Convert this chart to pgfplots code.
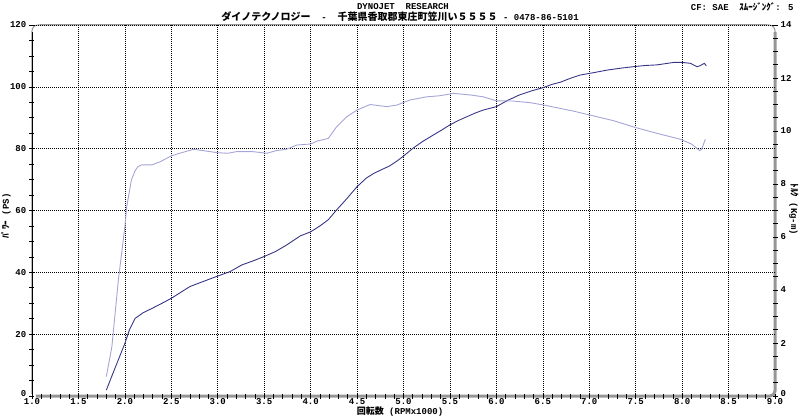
\documentclass[border=0pt]{standalone}
\usepackage{fontspec}
\setmainfont{Liberation Mono}
\newfontfamily\jp{Noto Sans CJK JP}
\usepackage{pgfplots}
\pgfplotsset{compat=1.18}
\definecolor{pwr}{RGB}{55,55,135}
\definecolor{trq}{RGB}{165,165,215}
\definecolor{frm}{RGB}{150,150,150}

\pgfplotsset{
  dyno/.style={
    width=743pt, height=371pt, scale only axis,
    at={(0,0)}, anchor=south west,
    xmin=1, xmax=9,
    axis line style={draw=none},
    tick align=center,
    major tick length=5pt, minor tick length=5pt,
    every tick/.style={black, line width=0.6pt},
    ticklabel style={font=\bfseries\fontsize{9}{9}\selectfont, inner sep=1pt},
    /pgf/number format/assume math mode=true,
    clip=false,
  },
}

\begin{document}
\begin{tikzpicture}
% frame
\draw[frm, line width=1pt, rounded corners=6pt] (0,2pt) -- (0,371pt) -- (743pt,371pt) -- (743pt,330pt);
\draw[black, line width=0.8pt] (0,2pt) -- (0,364pt);
\draw[frm, line width=3pt, rounded corners=5pt] (4pt,0) -- (743pt,0) -- (743pt,364pt);

% power (PS)
\begin{axis}[dyno,
    ymin=0, ymax=120,
    tick pos=left,
    xtick={1.5,2,...,8.5}, extra x ticks={1,9},
    minor xtick={1,1.1,...,9},
    ytick={20,40,...,120}, extra y ticks={0},
    minor ytick={0,5,...,120},
    extra x tick style={grid=none},
    extra y tick style={grid=none, yticklabel style={yshift=2.5pt}},
    xticklabel style={yshift=1pt, /pgf/number format/fixed, /pgf/number format/fixed zerofill, /pgf/number format/precision=1},
    yticklabel style={xshift=-2pt},
    grid=major,
    major grid style={black, line width=0.6pt, dash pattern=on 0.6pt off 1.4pt},
  ]
  \addplot[pwr, line width=0.9pt] coordinates {
    (1.80,1.9) (1.90,9.5) (2.00,17) (2.05,21.5) (2.11,25.1) (2.20,27) (2.29,28.3)
    (2.40,30) (2.50,31.6) (2.60,33.5) (2.70,35.4) (2.84,37) (3.00,38.8) (3.13,40.2)
    (3.26,42.4) (3.38,43.7) (3.49,45) (3.62,46.7) (3.74,48.8) (3.89,51.8) (4.00,53.1)
    (4.10,55) (4.19,57) (4.28,60.2) (4.38,63.5) (4.50,67.7) (4.60,70.5) (4.68,72)
    (4.77,73.3) (4.85,74.4) (4.93,76) (5.00,77.6) (5.10,80.1) (5.20,82.2) (5.32,84.4)
    (5.41,86) (5.50,87.7) (5.59,89.1) (5.68,90.3) (5.77,91.5) (5.86,92.5) (6.00,93.6)
    (6.12,95.6) (6.25,97.4) (6.38,98.7) (6.51,99.8) (6.60,100.8) (6.69,101.5)
    (6.80,102.8) (6.90,103.8) (7.05,104.6) (7.19,105.4) (7.33,106) (7.47,106.5)
    (7.60,106.9) (7.73,107.1) (7.82,107.5) (7.91,107.9) (8.00,107.9) (8.09,107.6)
    (8.16,106.5) (8.19,106.8) (8.24,107.6) (8.26,106.8)
  };
\end{axis}

% torque (kg-m)
\begin{axis}[dyno,
    ymin=0, ymax=14,
    hide x axis,
    ytick pos=right, yticklabel pos=right,
    ytick={2,4,...,14}, extra y ticks={0},
    extra y tick style={yticklabel style={yshift=2.5pt}},
    minor ytick={0,0.5,...,14},
    yticklabel style={xshift=2pt},
  ]
  \addplot[trq, line width=0.9pt] coordinates {
    (1.80,0.73) (1.86,1.86) (1.93,4.38) (2.00,6.39) (2.02,7.14) (2.07,8.15) (2.11,8.5)
    (2.14,8.65) (2.18,8.72) (2.29,8.72) (2.38,8.84) (2.50,9.06) (2.59,9.16) (2.74,9.31)
    (2.84,9.26) (3.00,9.18) (3.11,9.16) (3.20,9.22) (3.38,9.22) (3.53,9.16) (3.63,9.26)
    (3.74,9.31) (3.85,9.47) (4.00,9.51) (4.07,9.62) (4.19,9.72) (4.28,10.16) (4.39,10.54)
    (4.50,10.79) (4.64,11.0) (4.75,10.95) (4.82,10.92) (4.93,10.98) (5.07,11.17)
    (5.25,11.29) (5.39,11.33) (5.54,11.42) (5.72,11.36) (5.86,11.29) (6.00,11.14)
    (6.18,11.13) (6.36,11.07) (6.51,10.98) (6.65,10.88) (6.83,10.75) (7.01,10.6)
    (7.26,10.39) (7.49,10.14) (7.73,9.91) (7.98,9.69) (8.10,9.51) (8.19,9.26)
    (8.21,9.31) (8.25,9.69)
  };
\end{axis}

% top edge over the grid line at 120
\draw[frm, line width=1pt] (8pt,371pt) -- (735pt,371pt);

% texts
\node[font=\bfseries\fontsize{9}{9}\selectfont] at (371pt,389.5pt) {DYNOJET~~RESEARCH};
\node[font=\bfseries\fontsize{9}{9}\selectfont, inner sep=0pt] at (368pt,379.5pt)
  {{\jp\fontsize{10}{10}\selectfont ダイノテクノロジー}~~-~~{\jp\fontsize{10}{10}\selectfont 千葉県香取郡東庄町笠川い５５５５}~-~0478-86-5101};
\node[anchor=east, font=\bfseries\fontsize{9}{9}\selectfont] at (765pt,389pt)
  {CF: SAE~~{\jp ｽﾑｰｼﾞﾝｸﾞ}: 5};
\node[font=\bfseries\fontsize{9}{9}\selectfont] at (368pt,-16pt) {{\jp 回転数} (RPMx1000)};
\node[rotate=90, font=\bfseries\fontsize{9}{9}\selectfont] at (-26pt,180pt) {{\jp ﾊﾟﾜｰ} (PS)};
\node[rotate=-90, font=\bfseries\fontsize{9}{9}\selectfont] at (762pt,186.5pt) {{\jp ﾄﾙｸ} (Kg-m)};

\pgfresetboundingbox
\path (-32pt,-22pt) rectangle (768pt,396pt);
\end{tikzpicture}
\end{document}
